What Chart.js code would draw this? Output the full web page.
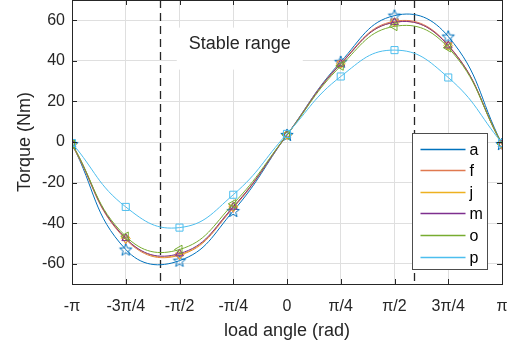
<!DOCTYPE html>
<html>
<head>
<meta charset="utf-8">
<script src="https://cdn.jsdelivr.net/npm/chart.js@4.4.1/dist/chart.umd.min.js"></script>
<style>
  html, body { margin: 0; padding: 0; background: #fff; }
  #wrap { width: 513px; height: 351px; }
</style>
</head>
<body>
<div id="wrap"><canvas id="torqueChart" width="513" height="351"></canvas></div>
<script>
// --- data ---
const PI = Math.PI;
const loadAngles = [-PI, -3 * PI / 4, -PI / 2, -PI / 4, 0, PI / 4, PI / 2, 3 * PI / 4, PI];
const xTickLabels = ['-π', '-3π/4', '-π/2', '-π/4', '0', 'π/4', 'π/2', '3π/4', 'π'];
const yTickVals = [-60, -40, -20, 0, 20, 40, 60];

const torqueA = [-1.0, -53.0, -58.5, -34.0, 3.5, 39.5, 62.3, 52.0, -1.0];
const torqueF = [-1.5, -48.0, -55.8, -32.5, 3.5, 38.8, 59.5, 47.8, -1.5];
const torqueJ = [-1.0, -47.5, -55.5, -32.0, 3.5, 38.5, 59.0, 47.5, -1.0];
const torqueM = [-1.0, -47.5, -55.0, -32.0, 3.5, 38.5, 59.0, 47.5, -1.0];
const torqueO = [-1.0, -46.5, -53.0, -30.5, 3.5, 37.5, 57.0, 46.5, -1.0];
const torqueP = [-0.5, -32.0, -42.2, -26.0, 4.0, 32.3, 45.3, 31.8, -0.5];

const seriesNames = ['a', 'f', 'j', 'm', 'o', 'p'];
const seriesColors = ['#0072BD', '#E0794F', '#EDB120', '#7E2F8E', '#77AC30', '#4DBEEE'];
const stableBounds = [-1.85, 1.85];   // dashed lines (rad)
const stableText = 'Stable range';

const FONT = "'Liberation Sans', Arial, Helvetica, sans-serif";
const INK = '#262626';

// pentagram marker like matlab 'p'
function makePentagram(color, r) {
    const c = document.createElement('canvas');
    const s = Math.ceil(r * 2 + 3);
    c.width = s; c.height = s;
    const g = c.getContext('2d');
    g.strokeStyle = color;
    g.lineWidth = 1;
    g.beginPath();
    for (let i = 0; i < 10; i++) {
        const ang = -PI / 2 + i * PI / 5;
        const rad = i % 2 ? r * 0.42 : r;
        const px = s / 2 + rad * Math.cos(ang);
        const py = s / 2 + 0.5 + rad * Math.sin(ang);
        if (i === 0) g.moveTo(px, py); else g.lineTo(px, py);
    }
    g.closePath();
    g.stroke();
    return c;
}

function toPoints(vals) {
    return vals.map((v, i) => ({ x: loadAngles[i], y: v }));
}

const allSeries = [torqueA, torqueF, torqueJ, torqueM, torqueO, torqueP];
const markerStyles = [
    { style: makePentagram(seriesColors[0], 6.5), rot: 0, r: 5 },
    { style: 'triangle', rot: 180, r: 4.5 },
    { style: 'rectRot', rot: 0, r: 4.5 },
    { style: 'triangle', rot: 0, r: 4.5 },
    { style: 'triangle', rot: -90, r: 5 },
    { style: 'rect', rot: 0, r: 5 }
];

const datasets = allSeries.map((vals, i) => ({
    label: seriesNames[i],
    data: toPoints(vals),
    borderColor: seriesColors[i],
    borderWidth: 1,
    tension: 0.45,
    pointStyle: markerStyles[i].style,
    pointRotation: markerStyles[i].rot,
    pointRadius: markerStyles[i].r,
    pointBorderColor: seriesColors[i],
    pointBackgroundColor: 'rgba(0,0,0,0)',
    pointBorderWidth: 1,
    order: allSeries.length - i
}));

function noPad(scale) {
    scale.paddingTop = 0;
    scale.paddingBottom = 0;
    scale.paddingLeft = 0;
    scale.paddingRight = 0;
}

// dashed lines + text box + inner ticks + legend
const decorPlugin = {
    id: 'decor',
    beforeDatasetsDraw(chart) {
        const { ctx, chartArea, scales } = chart;
        ctx.save();
        ctx.strokeStyle = INK;
        ctx.lineWidth = 1.3;
        ctx.setLineDash([8, 5]);
        stableBounds.forEach(b => {
            const px = Math.round(scales.x.getPixelForValue(b)) + 0.5;
            ctx.beginPath();
            ctx.moveTo(px, chartArea.top);
            ctx.lineTo(px, chartArea.bottom);
            ctx.stroke();
        });
        ctx.restore();

        // text with white box
        const cx = scales.x.getPixelForValue(-0.69);
        const cy = scales.y.getPixelForValue(48.5);
        ctx.save();
        ctx.fillStyle = '#fff';
        ctx.fillRect(cx - 63, cy - 16, 126, 42);
        ctx.fillStyle = INK;
        ctx.font = '18px ' + FONT;
        ctx.textAlign = 'center';
        ctx.textBaseline = 'middle';
        ctx.fillText(stableText, cx, cy);
        ctx.restore();
    },
    afterDraw(chart) {
        const { ctx, chartArea, scales } = chart;
        const { left, right, top, bottom } = chartArea;
        ctx.save();
        ctx.strokeStyle = INK;
        ctx.lineWidth = 1;
        ctx.strokeRect(Math.round(left) + 0.5, Math.round(top) + 0.5,
            Math.round(right - left), Math.round(bottom - top));
        const tl = 5;
        ctx.beginPath();
        loadAngles.forEach(v => {
            const px = Math.round(scales.x.getPixelForValue(v)) + 0.5;
            ctx.moveTo(px, bottom); ctx.lineTo(px, bottom - tl);
            ctx.moveTo(px, top); ctx.lineTo(px, top + tl);
        });
        yTickVals.forEach(v => {
            const py = Math.round(scales.y.getPixelForValue(v)) + 0.5;
            ctx.moveTo(left, py); ctx.lineTo(left + tl, py);
            ctx.moveTo(right, py); ctx.lineTo(right - tl, py);
        });
        ctx.stroke();

        // legend box
        const lx = Math.round(right) - 89.5, ly = Math.round(bottom) - 150.5;
        const lw = 75, lh = 136;
        ctx.fillStyle = '#fff';
        ctx.fillRect(lx, ly, lw, lh);
        ctx.strokeStyle = '#4d4d4d';
        ctx.strokeRect(lx, ly, lw, lh);
        ctx.font = '16px ' + FONT;
        ctx.textBaseline = 'middle';
        ctx.textAlign = 'left';
        seriesNames.forEach((name, i) => {
            const ry = Math.round(ly + 15 + i * 21.6) + 0.5;
            ctx.strokeStyle = seriesColors[i];
            ctx.lineWidth = 1.5;
            ctx.beginPath();
            ctx.moveTo(lx + 8, ry);
            ctx.lineTo(lx + 53, ry);
            ctx.stroke();
            ctx.fillStyle = '#000';
            ctx.fillText(name, lx + 57, ry + 1);
        });
        ctx.restore();
    }
};

new Chart(document.getElementById('torqueChart'), {
    type: 'line',
    data: { datasets: datasets },
    plugins: [decorPlugin],
    options: {
        responsive: false,
        animation: false,
        layout: { autoPadding: false, padding: { left: 0, top: -3, right: 11, bottom: 0 } },
        plugins: {
            legend: { display: false },
            tooltip: { enabled: false }
        },
        scales: {
            x: {
                type: 'linear',
                min: -PI,
                max: PI,
                afterBuildTicks: scale => { scale.ticks = loadAngles.map(v => ({ value: v })); },
                afterFit: scale => { scale.height = 67; noPad(scale); },
                ticks: {
                    callback: (v, i) => xTickLabels[i],
                    color: INK,
                    font: { family: FONT, size: 16 },
                    padding: 13,
                    maxRotation: 0,
                    autoSkip: false
                },
                grid: { color: '#dfdfdf', drawTicks: false },
                border: { display: false },
                title: {
                    display: true,
                    text: 'load angle (rad)',
                    color: INK,
                    font: { family: FONT, size: 18 },
                    padding: { top: 4, bottom: 9 }
                }
            },
            y: {
                min: -70,
                max: 70,
                afterBuildTicks: scale => { scale.ticks = yTickVals.map(v => ({ value: v })); },
                afterFit: scale => { scale.width = 72; noPad(scale); },
                ticks: {
                    color: INK,
                    font: { family: FONT, size: 16 },
                    padding: 7
                },
                grid: { color: '#dfdfdf', drawTicks: false },
                border: { display: false },
                title: {
                    display: true,
                    text: 'Torque (Nm)',
                    color: INK,
                    font: { family: FONT, size: 18 },
                    padding: { top: 14, bottom: 4 }
                }
            }
        }
    }
});
</script>
</body>
</html>
